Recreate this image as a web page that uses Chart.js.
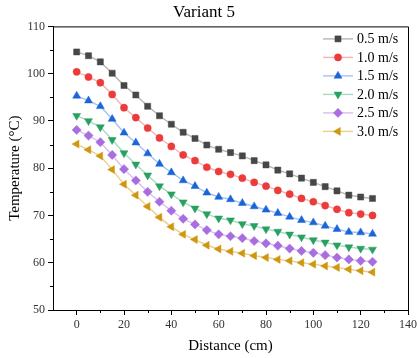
<!DOCTYPE html>
<html>
<head>
<meta charset="utf-8">
<script src="https://cdn.jsdelivr.net/npm/chart.js@4.4.1/dist/chart.umd.min.js"></script>
<style>
  html, body { margin: 0; padding: 0; background: #fff; }
  #wrap { width: 417px; height: 358px; position: relative; }
</style>
</head>
<body>
<div id="wrap"><canvas id="c" width="417" height="358"></canvas></div>
<script>
const distances = [0,5,10,15,20,25,30,35,40,45,50,55,60,65,70,75,80,85,90,95,100,105,110,115,120,125];
const seriesLabels = ['0.5 m/s','1.0 m/s','1.5 m/s','2.0 m/s','2.5 m/s','3.0 m/s'];
const v05 = [104.6,103.8,102.5,100.1,97.5,95.5,93.1,91.1,89.3,87.6,86.3,84.9,84.0,83.3,82.6,81.6,80.7,79.6,78.8,77.9,77.0,76.1,75.2,74.3,73.9,73.6];
const v10 = [100.4,99.3,98.1,95.6,92.8,90.7,88.5,86.4,84.6,82.8,81.6,80.2,79.3,78.7,77.9,77.0,76.2,75.3,74.5,73.6,72.9,72.1,71.3,70.6,70.3,70.0];
const v15 = [95.3,94.3,93.1,90.4,87.5,85.4,83.1,80.9,79.1,77.4,76.2,74.8,73.9,73.4,72.6,71.9,71.2,70.5,69.7,69.0,68.5,67.8,67.1,66.5,66.4,66.1];
const v20 = [91.1,90.0,88.7,86.0,83.2,80.8,78.5,76.2,74.5,72.8,71.5,70.3,69.4,69.0,68.2,67.8,67.1,66.6,66.0,65.4,64.8,64.3,63.7,63.3,63.0,62.8];
const v25 = [88.1,86.9,85.5,82.8,79.8,77.4,75.0,72.9,71.0,69.3,68.1,66.9,66.0,65.6,65.2,64.6,64.1,63.6,63.0,62.5,62.1,61.6,61.1,60.7,60.4,60.2];
const v30 = [85.1,83.9,82.6,79.7,76.6,74.3,71.9,69.6,67.6,66.0,64.9,63.7,62.9,62.4,62.0,61.5,61.1,60.7,60.4,60.0,59.7,59.3,59.0,58.6,58.3,58.0];
const xMajorTicks = [0,20,40,60,80,100,120,140];
const xMinorTicks = [10,30,50,70,90,110,130];
const yMajorTicks = [50,60,70,80,90,100,110];
const yMinorTicks = [55,65,75,85,95,105];

const allValues = [v05, v10, v15, v20, v25, v30];
const styles = [
  {color:'#474747', line:'rgba(71,71,71,0.40)',  pointStyle:'rect',     rotation:0,   radius:4.3},
  {color:'#ec3b3b', line:'rgba(236,59,59,0.40)', pointStyle:'circle',   rotation:0,   radius:3.6},
  {color:'#1a66d8', line:'rgba(26,102,216,0.40)',pointStyle:'triangle', rotation:0,   radius:4.6},
  {color:'#27a060', line:'rgba(39,160,96,0.40)', pointStyle:'triangle', rotation:180, radius:4.6},
  {color:'#a86ee0', line:'rgba(168,110,224,0.45)',pointStyle:'rectRot', rotation:0,   radius:4.6},
  {color:'#cf970e', line:'rgba(207,151,14,0.45)',pointStyle:'triangle', rotation:270, radius:4.6}
];
const SERIF = "'Liberation Serif', 'Times New Roman', serif";

const datasets = allValues.map((vals, i) => ({
  label: seriesLabels[i],
  data: distances.map((d, j) => ({x: d, y: vals[j]})),
  borderColor: styles[i].line,
  borderWidth: 1.4,
  backgroundColor: styles[i].color,
  pointBackgroundColor: styles[i].color,
  pointBorderColor: styles[i].color,
  pointBorderWidth: 0.5,
  pointStyle: styles[i].pointStyle,
  pointRotation: styles[i].rotation,
  pointRadius: styles[i].radius,
  showLine: true,
  tension: 0
}));

const framePlugin = {
  id: 'frame',
  afterDraw(chart) {
    const {ctx, chartArea: a, scales} = chart;
    ctx.save();
    ctx.strokeStyle = '#000';
    ctx.lineWidth = 1;
    ctx.beginPath();
    ctx.moveTo(a.left, a.top + 0.5);
    ctx.lineTo(a.right + 0.5, a.top + 0.5);
    ctx.lineTo(a.right + 0.5, a.bottom);
    ctx.stroke();
    // minor ticks
    ctx.beginPath();
    xMinorTicks.forEach(v => {
      const px = Math.round(scales.x.getPixelForValue(v)) + 0.5;
      ctx.moveTo(px, a.bottom);
      ctx.lineTo(px, a.bottom + 3);
    });
    yMinorTicks.forEach(v => {
      const py = Math.round(scales.y.getPixelForValue(v)) + 0.5;
      ctx.moveTo(a.left, py);
      ctx.lineTo(a.left - 3, py);
    });
    ctx.stroke();
    // legend
    const lx = a.right - 85, ly0 = a.top + 12.5, dy = 18.5;
    ctx.font = "14px " + SERIF;
    ctx.textBaseline = 'middle';
    ctx.textAlign = 'left';
    chart.data.datasets.forEach((ds, i) => {
      const y = ly0 + i * dy;
      ctx.strokeStyle = ds.borderColor;
      ctx.lineWidth = 1.4;
      ctx.beginPath();
      ctx.moveTo(lx, y);
      ctx.lineTo(lx + 30, y);
      ctx.stroke();
      ctx.fillStyle = ds.pointBackgroundColor;
      ctx.strokeStyle = ds.pointBorderColor;
      ctx.lineWidth = 0.5;
      Chart.helpers.drawPoint(ctx, {pointStyle: ds.pointStyle, rotation: ds.pointRotation, radius: ds.pointRadius, borderWidth: 0.5}, lx + 15, y);
      ctx.fillStyle = '#000';
      ctx.fillText(ds.label, lx + 34, y + 0.5);
    });
    ctx.restore();
  }
};

new Chart(document.getElementById('c'), {
  type: 'scatter',
  data: { datasets },
  options: {
    responsive: false,
    animation: false,
    layout: { padding: { left: 0, right: 9, top: 0, bottom: 0 } },
    plugins: {
      legend: { display: false },
      tooltip: { enabled: false },
      title: {
        display: true,
        text: 'Variant 5',
        color: '#000',
        font: { family: SERIF, size: 17, weight: 'normal' },
        padding: { top: 2, bottom: 4 }
      }
    },
    scales: {
      x: {
        type: 'linear',
        min: -10, max: 140,
        afterBuildTicks(scale) { scale.ticks = xMajorTicks.map(v => ({value: v})); },
        afterFit(scale) { scale.height = 48; scale.paddingRight = 0; scale.paddingLeft = 0; },
        ticks: { color: '#333', font: { family: SERIF, size: 12, weight: 'normal' }, padding: 3, maxRotation: 0 },
        grid: { drawOnChartArea: false, drawTicks: true, tickLength: 5, color: '#000', lineWidth: 1 },
        border: { color: '#000', width: 1 },
        title: { display: true, text: 'Distance (cm)', color: '#000', font: { family: SERIF, size: 15, weight: 'normal' }, padding: { top: 0, bottom: 3 } }
      },
      y: {
        type: 'linear',
        min: 50, max: 110,
        afterBuildTicks(scale) { scale.ticks = yMajorTicks.map(v => ({value: v})); },
        afterFit(scale) { scale.width = 53; scale.paddingTop = 0; scale.paddingBottom = 0; },
        ticks: { color: '#333', font: { family: SERIF, size: 12, weight: 'normal' }, padding: 3 },
        grid: { drawOnChartArea: false, drawTicks: true, tickLength: 5, color: '#000', lineWidth: 1 },
        border: { color: '#000', width: 1 },
        title: { display: true, text: 'Temperature (°C)', color: '#000', font: { family: SERIF, size: 15, weight: 'normal' }, padding: { top: 6, bottom: 0 } }
      }
    }
  },
  plugins: [framePlugin]
});
</script>
</body>
</html>
